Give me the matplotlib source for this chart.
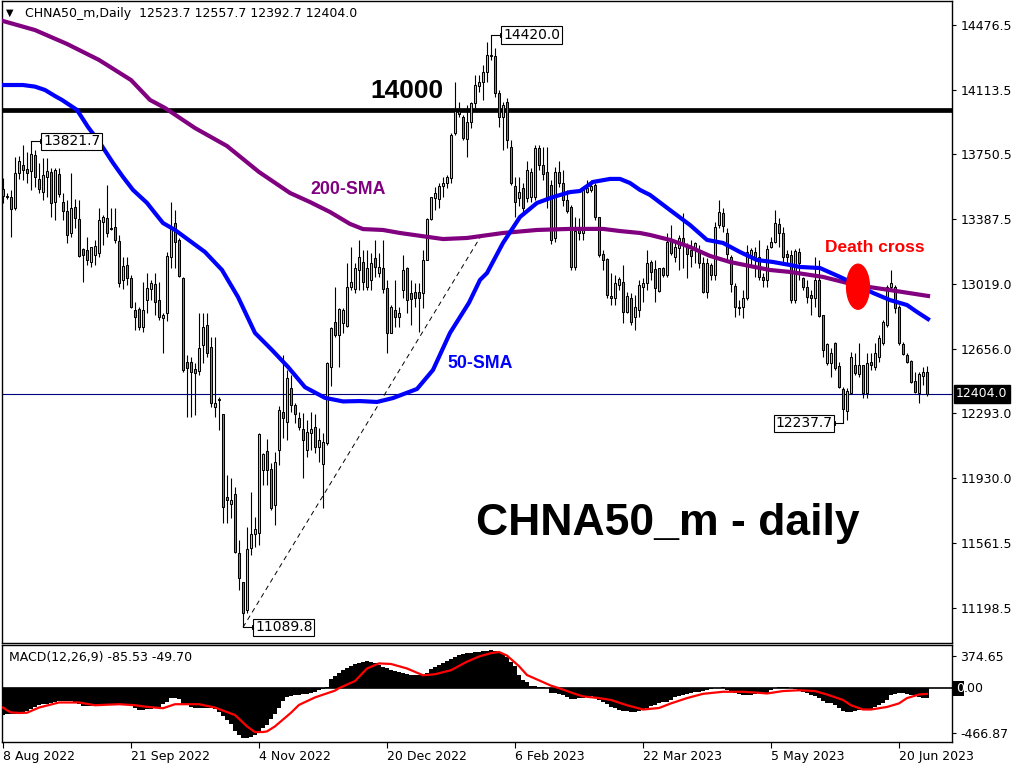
import matplotlib
matplotlib.use("Agg")

import matplotlib.pyplot as plt
import matplotlib.transforms as mtransforms
from matplotlib.patches import Ellipse, Rectangle
import numpy as np

W, H = 1024, 768

# daily bars, 8 Aug 2022 .. end of Jun 2023
opens = [
    13553, 13517, 13511, 13446, 13646, 13688, 13667, 13658, 13746, 13609,
    13540, 13624, 13652, 13483, 13637, 13480, 13431, 13305, 13452, 13384,
    13217, 13212, 13146, 13185, 13193, 13371, 13393, 13335, 13339, 13260,
    13043, 13127, 13052, 12874, 12878, 12781, 12931, 12991, 13021, 12931,
    12827, 12859, 13174, 13362, 13268, 13052, 12584, 12580, 12543, 12533,
    12678, 12790, 12668, 12331, 12372, 12288, 11825, 11784, 11840, 11506,
    11343, 11188, 11534, 11613, 11619, 11975, 12082, 11979, 11778, 12087,
    12303, 12247, 12438, 12340, 12269, 12203, 12087, 12185, 12218, 12102,
    12008, 12125, 12556, 12809, 12734, 12800, 12785, 13006, 12991, 13100,
    13146, 13006, 13043, 13165, 13081, 13109, 12996, 12747, 12875, 12837,
    12987, 13109, 12968, 12978, 12974, 12968, 13156, 13384, 13502, 13497,
    13574, 13587, 13615, 13868, 13995, 13961, 13834, 13933, 14040, 14136,
    14158, 14211, 14305, 14303, 14096, 13958, 14046, 13793, 13572, 13502,
    13559, 13502, 13512, 13512, 13783, 13690, 13652, 13577, 13278, 13652,
    13587, 13493, 13452, 13114, 13343, 13306, 13540, 13549, 13577, 13396,
    13188, 13160, 12953, 12940, 13015, 13034, 12865, 12940, 12833, 12874,
    13005, 13024, 13146, 13103, 12983, 13108, 13071, 13268, 13170, 13221,
    13277, 13230, 13211, 13221, 13202, 13140, 12977, 13127, 13071, 13352,
    13418, 13309, 13174, 13009, 12893, 12889, 12940, 13183, 13202, 13170,
    13062, 13043, 13230, 13258, 13358, 13305, 13189, 13183, 12930, 13202,
    13052, 13002, 12958, 12940, 13043, 12846, 12574, 12574, 12690, 12559,
    12428, 12306, 12406, 12565, 12514, 12565, 12406, 12584, 12556, 12612,
    12690, 12790, 13002, 13005, 12893, 12683, 12621, 12589, 12475, 12406,
    12503, 12523.7,
]
highs = [
    13615, 13530, 13549, 13736, 13740, 13802, 13765, 13821.7, 13774, 13699,
    13727, 13727, 13671, 13671, 13671, 13530, 13493, 13643, 13497, 13493,
    13221, 13287, 13230, 13268, 13446, 13408, 13577, 13446, 13446, 13296,
    13174, 13174, 13071, 12921, 12893, 13034, 13080, 13043, 13080, 13034,
    12856, 13200, 13483, 13437, 13277, 13058, 12621, 12612, 12574, 12856,
    12856, 12856, 12724, 12724, 12383, 12288, 11947, 11928, 11881, 11581,
    11347, 11656, 11853, 11712, 12181, 12069, 12147, 12012, 12078, 12335,
    12621, 12537, 12509, 12350, 12303, 12293, 12256, 12303, 12290, 12209,
    12181, 12584, 12781, 13006, 12884, 12884, 13137, 13231, 13137, 13268,
    13212, 13212, 13193, 13268, 13193, 13268, 13043, 12903, 13043, 12893,
    13184, 13118, 13043, 13025, 13025, 13212, 13390, 13512, 13568, 13587,
    13624, 13634, 13868, 14158, 14046, 13971, 14027, 14046, 14196, 14196,
    14252, 14383, 14420, 14346, 14111, 14046, 14065, 13830, 13624, 13624,
    13587, 13709, 13671, 13802, 13802, 13793, 13793, 13605, 13680, 13709,
    13662, 13549, 13465, 13399, 13390, 13568, 13605, 13605, 13587, 13399,
    13212, 13165, 13081, 13071, 13062, 13128, 12978, 12968, 12959, 13043,
    13052, 13211, 13155, 13155, 13108, 13114, 13305, 13352, 13268, 13296,
    13418, 13249, 13268, 13258, 13240, 13174, 13165, 13137, 13371, 13493,
    13446, 13333, 13183, 13024, 12930, 12987, 13240, 13221, 13230, 13268,
    13080, 13240, 13286, 13436, 13390, 13343, 13211, 13211, 13215, 13221,
    13062, 13043, 12987, 13174, 13155, 12846, 12687, 12659, 12696, 12584,
    12443, 12434, 12640, 12630, 12687, 12565, 12630, 12630, 12687, 12734,
    12818, 13015, 13099, 13015, 12902, 12696, 12630, 12593, 12528, 12528,
    12556, 12557.7,
]
lows = [
    13474, 13500, 13287, 13437, 13609, 13605, 13587, 13549, 13568, 13530,
    13493, 13511, 13399, 13380, 13511, 13380, 13253, 13287, 13333, 13174,
    13034, 13127, 13118, 13127, 13174, 13240, 13287, 13324, 13249, 13002,
    12991, 13015, 12884, 12762, 12762, 12753, 12856, 12931, 12846, 12818,
    12631, 12812, 13109, 13109, 13058, 12528, 12275, 12275, 12284, 12509,
    12574, 12612, 12331, 12275, 12200, 11675, 11675, 11703, 11506, 11300,
    11089.8, 11169, 11497, 11544, 11553, 11890, 11890, 11750, 11666, 12003,
    12153, 12144, 12303, 12237, 12200, 11928, 12050, 12087, 12068, 12022,
    11759, 12116, 12444, 12725, 12556, 12743, 12781, 12987, 12968, 12987,
    12987, 12987, 12987, 13062, 13062, 12968, 12635, 12743, 12781, 12781,
    12940, 12856, 12790, 12893, 12753, 12884, 13156, 13381, 13437, 13446,
    13512, 13559, 13587, 13858, 13961, 13830, 13737, 13896, 14008, 14102,
    14055, 14158, 14280, 14074, 13905, 13774, 13783, 13577, 13399, 13456,
    13418, 13484, 13484, 13493, 13662, 13605, 13446, 13246, 13259, 13568,
    13456, 13418, 13100, 13100, 13268, 13268, 13530, 13540, 13381, 13174,
    13100, 12940, 12903, 12903, 12987, 12800, 12856, 12790, 12762, 12837,
    12921, 12987, 13043, 12921, 12977, 13062, 13062, 13183, 13146, 13099,
    13108, 13052, 13118, 13137, 13108, 12968, 12940, 13043, 13043, 13333,
    13315, 13146, 12977, 12837, 12846, 12827, 12930, 13127, 13062, 13043,
    13005, 13005, 13221, 13249, 13230, 13146, 13137, 12912, 12912, 13043,
    12987, 12912, 12846, 12893, 12837, 12612, 12565, 12499, 12537, 12434,
    12237.7, 12256, 12406, 12509, 12499, 12378, 12378, 12537, 12537, 12584,
    12677, 12780, 12987, 12855, 12677, 12621, 12574, 12462, 12406, 12353,
    12453, 12392.7,
]
closes = [
    13515, 13512, 13440, 13643, 13712, 13661, 13646, 13750, 13624, 13553,
    13631, 13656, 13474, 13661, 13525, 13433, 13296, 13446, 13390, 13178,
    13184, 13155, 13227, 13234, 13380, 13399, 13305, 13330, 13268, 13024,
    13122, 13052, 12889, 12833, 12777, 12874, 12996, 13028, 12921, 12837,
    12844, 13178, 13333, 13258, 13066, 12537, 12550, 12528, 12522, 12659,
    12781, 12634, 12350, 12350, 12368, 11769, 11806, 11806, 11516, 11366,
    11169, 11529, 11613, 11643, 12175, 12063, 11975, 11759, 12022, 12312,
    12265, 12490, 12340, 12290, 12218, 12144, 12187, 12203, 12106, 12144,
    12130, 12575, 12772, 12734, 12878, 12875, 13006, 13034, 13109, 13174,
    13034, 13109, 13141, 13118, 13118, 12991, 12743, 12893, 12837, 12856,
    13100, 12931, 12936, 12940, 12940, 13156, 13384, 13512, 13530, 13574,
    13587, 13624, 13858, 13995, 13975, 13840, 13933, 14040, 14140, 14158,
    14215, 14308, 14300, 14093, 13961, 14027, 13830, 13587, 13484, 13540,
    13446, 13662, 13652, 13783, 13690, 13639, 13512, 13268, 13652, 13587,
    13493, 13433, 13114, 13321, 13306, 13549, 13559, 13572, 13399, 13184,
    13156, 12959, 12940, 13025, 13047, 12865, 12950, 12809, 12893, 13015,
    13024, 13140, 13090, 12996, 13108, 13071, 13258, 13193, 13230, 13277,
    13249, 13189, 13178, 13249, 13137, 12977, 13140, 13071, 13343, 13427,
    13346, 13189, 13020, 12889, 12883, 12940, 13202, 13211, 13170, 13058,
    13043, 13215, 13258, 13361, 13305, 13170, 13174, 12930, 13206, 13137,
    13002, 12949, 12940, 13043, 12840, 12649, 12681, 12634, 12546, 12439,
    12316, 12421, 12608, 12518, 12565, 12406, 12578, 12565, 12630, 12715,
    12809, 13002, 13024, 12883, 12687, 12627, 12584, 12471, 12415, 12512,
    12526, 12404.0,
]

# moving averages at selected bar positions
sma50_bars = [0, 5, 8, 10.5, 13, 14.75, 18.5, 21.25, 24.25, 27.5, 30, 32.5, 36, 38,
              40, 43, 50.5, 54.75, 58.75, 63, 67.25, 71.25, 75.5, 80.5, 85, 89.25,
              93.5, 97.5, 103.5, 107.5, 111.75, 116.5, 119.25, 121, 125, 129.25,
              133.5, 137.5, 141.75, 144.25, 147.5, 151.75, 154.25, 156.75, 159.25,
              161.75, 166.75, 171.75, 176, 180, 184.25, 188.5, 192.5, 196.75,
              199.25, 204.25, 209.25, 213.5, 217.5, 221.75, 226, 228.5, 231.25]
sma50_vals = [14139, 14139, 14130, 14111, 14077, 14055, 13999, 13903, 13813, 13701,
              13622, 13549, 13476, 13419, 13363, 13324, 13200, 13099, 12947, 12745,
              12649, 12554, 12440, 12380, 12360, 12362, 12357, 12379, 12430, 12537,
              12745, 12915, 13043, 13082, 13251, 13397, 13476, 13509, 13537, 13543,
              13594, 13611, 13611, 13588, 13549, 13521, 13436, 13352, 13268, 13251,
              13200, 13155, 13144, 13127, 13116, 13110, 13060, 13015, 12970, 12930,
              12902, 12863, 12823]
sma200_bars = [0, 8, 16, 24, 32, 36.75, 40.5, 48, 56, 64, 71.75, 76.75, 81.75, 86.75,
               90, 95, 99.25, 110, 116, 125, 133.5, 141.75, 150, 154.25, 159.25,
               161.75, 166.75, 171.75, 176.75, 181.75, 186.75, 191.75, 196.75, 205,
               213, 221.75, 231.25]
sma200_vals = [14499, 14448, 14370, 14280, 14167, 14055, 14010, 13897, 13796, 13650,
               13532, 13481, 13425, 13358, 13329, 13324, 13307, 13273, 13279, 13307,
               13324, 13330, 13330, 13318, 13307, 13296, 13268, 13228, 13178, 13144,
               13121, 13099, 13088, 13060, 13015, 12986, 12953]

# MACD(12,26,9): main value per bar, signal line read at selected bars
macd_hist = [
    -230, -228, -226, -222, -216, -208, -196, -180, -160, -150,
    -140, -133, -125, -120, -115, -113, -113, -115, -125, -140,
    -153, -155, -153, -152, -150, -148, -146, -144, -141, -139,
    -139, -145, -153, -175, -192, -185, -183, -178, -174, -160,
    -139, -120, -88, -86, -95, -139, -150, -160, -168, -168,
    -168, -170, -176, -183, -210, -242, -280, -310, -370, -404,
    -430, -434, -425, -410, -375, -345, -316, -270, -227, -170,
    -110, -80, -68, -62, -57, -52, -50, -45, -35, -20,
    -5, 9, 80, 110, 135, 156, 175, 195, 210, 222,
    230, 232, 230, 215, 200, 186, 172, 158, 150, 140,
    133, 125, 115, 112, 112, 112, 135, 165, 185, 205,
    215, 232, 255, 268, 289, 295, 302, 308, 310, 315,
    319, 325, 332, 322, 314, 298, 268, 230, 191, 114,
    75, 55, 22, 18, 14, 12, 5, -40, -45, -50,
    -55, -75, -92, -90, -88, -84, -78, -71, -85, -100,
    -118, -140, -163, -175, -185, -194, -200, -205, -209, -195,
    -179, -168, -155, -145, -132, -120, -117, -100, -80, -71,
    -60, -49, -42, -36, -30, -25, -18, -10, -2, 4,
    6, -15, -30, -45, -52, -58, -62, -55, -48, -42,
    -40, -40, -20, 0, 6, 8, 6, 2, -10, -25,
    -35, -45, -55, -65, -86, -110, -125, -132, -150, -175,
    -194, -205, -209, -200, -190, -185, -182, -179, -165, -148,
    -125, -102, -60, -49, -45, -40, -50, -60, -71, -78,
    -85, -85.53,
]
signal_bars = [0, 1, 2, 4, 6, 9, 14, 19, 23, 29, 33, 36, 40, 43, 49, 53, 58, 61, 63,
               65, 66, 68, 72, 74, 78, 83, 84, 88, 91, 94, 97, 101, 105, 108, 112,
               116, 119, 122, 124, 126, 129, 131, 134, 137, 139, 143, 145, 149, 152,
               156, 160, 164, 167, 171, 175, 180, 185, 189, 191, 195, 199, 203, 206,
               210, 212, 215, 217, 221, 224, 226, 229, 231]
signal_vals = [-168, -192, -210, -215, -213, -168, -124, -124, -148, -139, -148, -162,
               -174, -139, -139, -168, -233, -331, -381, -380, -375, -331, -213, -145,
               -80, -21, 0, 62, 171, 215, 210, 171, 112, 121, 156, 230, 275, 304, 314,
               283, 191, 114, 68, 22, 0, -49, -71, -86, -102, -148, -185, -172, -132,
               -86, -49, -31, -31, -40, -46, -25, -18, -25, -55, -102, -148, -185, -185,
               -163, -132, -86, -55, -49.7]

price_ticks = [14476.5, 14113.5, 13750.5, 13387.5, 13019.0, 12656.0, 12293.0,
               11930.0, 11561.5, 11198.5]
date_bars = [0, 32, 64, 96, 128, 160, 192, 224]
date_labels = ["8 Aug 2022", "21 Sep 2022", "4 Nov 2022", "20 Dec 2022",
               "6 Feb 2023", "22 Mar 2023", "5 May 2023", "20 Jun 2023"]
last_price = 12404.0
level = 14000

BULL = "#c6d84a"
BEAR = "#e4622a"
FS = 9

plt.rcParams["font.family"] = ["DejaVu Sans"]

fig = plt.figure(figsize=(W / 100, H / 100), dpi=100)


def box(l, t, r, b):
    return [l / W, 1 - b / H, (r - l) / W, (b - t) / H]


def fpx(x, y):
    return x / W, 1 - y / H


ax = fig.add_axes(box(2, 1, 952, 643))
ax2 = fig.add_axes(box(2, 645, 952, 742))

x = np.arange(len(closes))
o = np.array(opens)
c = np.array(closes)
up = c >= o

ax.vlines(x, lows, highs, color="black", lw=0.8, zorder=2)
ax.bar(x, np.abs(c - o), bottom=np.minimum(o, c), width=0.62,
       color=np.where(up, BULL, BEAR), edgecolor="black", linewidth=0.75, zorder=3)

ax.axhline(last_price, color="#000080", lw=0.8, zorder=1)
ax.axhline(level, color="black", lw=3.4, zorder=2.5)

ax.plot(sma200_bars, sma200_vals, color="#800080", lw=3.0, zorder=4)
ax.plot(sma50_bars, sma50_vals, color="#0000ff", lw=3.0, zorder=5)

# dashed trend line from the October low
ax.plot([60, 119.5], [11089.8, 13290], color="black", lw=0.7,
        dashes=(5, 4), zorder=3.5)

# price labels on the swing points: (bar, price, label bar, side)
for bar, val, lab, side in [(7, 13821.7, 10.0, "left"), (122, 14420.0, 125.0, "left"),
                            (60, 11089.8, 63.0, "left"), (210, 12237.7, 207.3, "right")]:
    end = lab - 0.3 if side == "left" else lab + 0.3
    ax.plot([bar, end], [val, val], color="black", lw=0.8, zorder=6)
    ax.plot(end, val, marker="s", ms=2.5, mfc="white", mec="black", mew=0.7, zorder=6)
    ax.text(lab, val, f"{val:.1f}", ha=side, va="center", fontsize=10, zorder=6,
            bbox=dict(boxstyle="square,pad=0.12", fc="white", ec="black", lw=0.8))

ax.add_patch(Ellipse((213.75, 13005), 5.7, 253, color="#ff0000", zorder=6))

ax.set_xlim(-0.25, 237.25)
ax.set_ylim(11001.7, 14611.4)
ax.set_xticks([])
ax.yaxis.tick_right()
ax.set_yticks(price_ticks)
ax.set_yticklabels([f"{v:.1f}" for v in price_ticks])
ax.tick_params(axis="y", direction="out", length=3, labelsize=FS, pad=3)

trans = mtransforms.blended_transform_factory(ax.transAxes, ax.transData)
ax.text(1.0 + 4 / 950, last_price, "12404.0", transform=trans, ha="left", va="center",
        color="white", fontsize=FS, zorder=7, clip_on=False,
        bbox=dict(boxstyle="square,pad=0.2", fc="black", ec="black"))

# MACD panel
ax2.bar(x, macd_hist, width=1.0, color="black", linewidth=0, zorder=2)
ax2.axhline(0, color="black", lw=1.2, zorder=2)
ax2.plot(signal_bars, signal_vals, color="#ff0000", lw=1.6, zorder=3)
ax2.set_xlim(-0.25, 237.25)
ax2.set_ylim(-466.87, 374.65)
ax2.yaxis.tick_right()
ax2.set_yticks([279, -389])
ax2.set_yticklabels(["374.65", "-466.87"])
ax2.tick_params(axis="y", direction="out", length=3, labelsize=FS, pad=3)
ax2.set_xticks(date_bars)
ax2.set_xticklabels(date_labels, ha="left")
ax2.tick_params(axis="x", direction="out", length=4, labelsize=FS, pad=2)
ax2.text(7 / 950, 1 - 13 / 97, "MACD(12,26,9) -85.53 -49.70", transform=ax2.transAxes,
         ha="left", va="center", fontsize=FS)

for a in (ax, ax2):
    for s in a.spines.values():
        s.set_linewidth(1.0)
        s.set_color("black")

# zero-line tag on the MACD scale: black box behind the first digit
fig.patches.append(Rectangle(fpx(953, 696), 11 / W, 15 / H, transform=fig.transFigure,
                             fc="black", ec="none", zorder=5))
fig.text(*fpx(956, 688), "0", ha="left", va="center", fontsize=FS, color="white",
         zorder=6)
fig.text(*fpx(964, 688), ".00", ha="left", va="center", fontsize=FS)

# header and annotations
fig.text(*fpx(6, 13), "\u25bc", ha="left", va="center", fontsize=7)
fig.text(*fpx(25, 13), "CHNA50_m,Daily  12523.7 12557.7 12392.7 12404.0",
         ha="left", va="center", fontsize=FS)
fig.text(*fpx(407, 91), "14000", ha="center", va="center", fontsize=19,
         fontweight="bold", family="Liberation Sans")
fig.text(*fpx(310, 189), "200-SMA", ha="left", va="center", fontsize=12.8,
         fontweight="bold", family="Liberation Sans", color="#800080")
fig.text(*fpx(447, 364), "50-SMA", ha="left", va="center", fontsize=12.8,
         fontweight="bold", family="Liberation Sans", color="#0000ff")
fig.text(*fpx(875, 248), "Death cross", ha="center", va="center", fontsize=12.5,
         fontweight="bold", family="Liberation Sans", color="#ff0000")
fig.text(*fpx(668, 523), "CHNA50_m - daily", ha="center", va="center", fontsize=32,
         fontweight="bold", family="Liberation Sans", color="black")

fig.savefig("out.png", dpi=100)
